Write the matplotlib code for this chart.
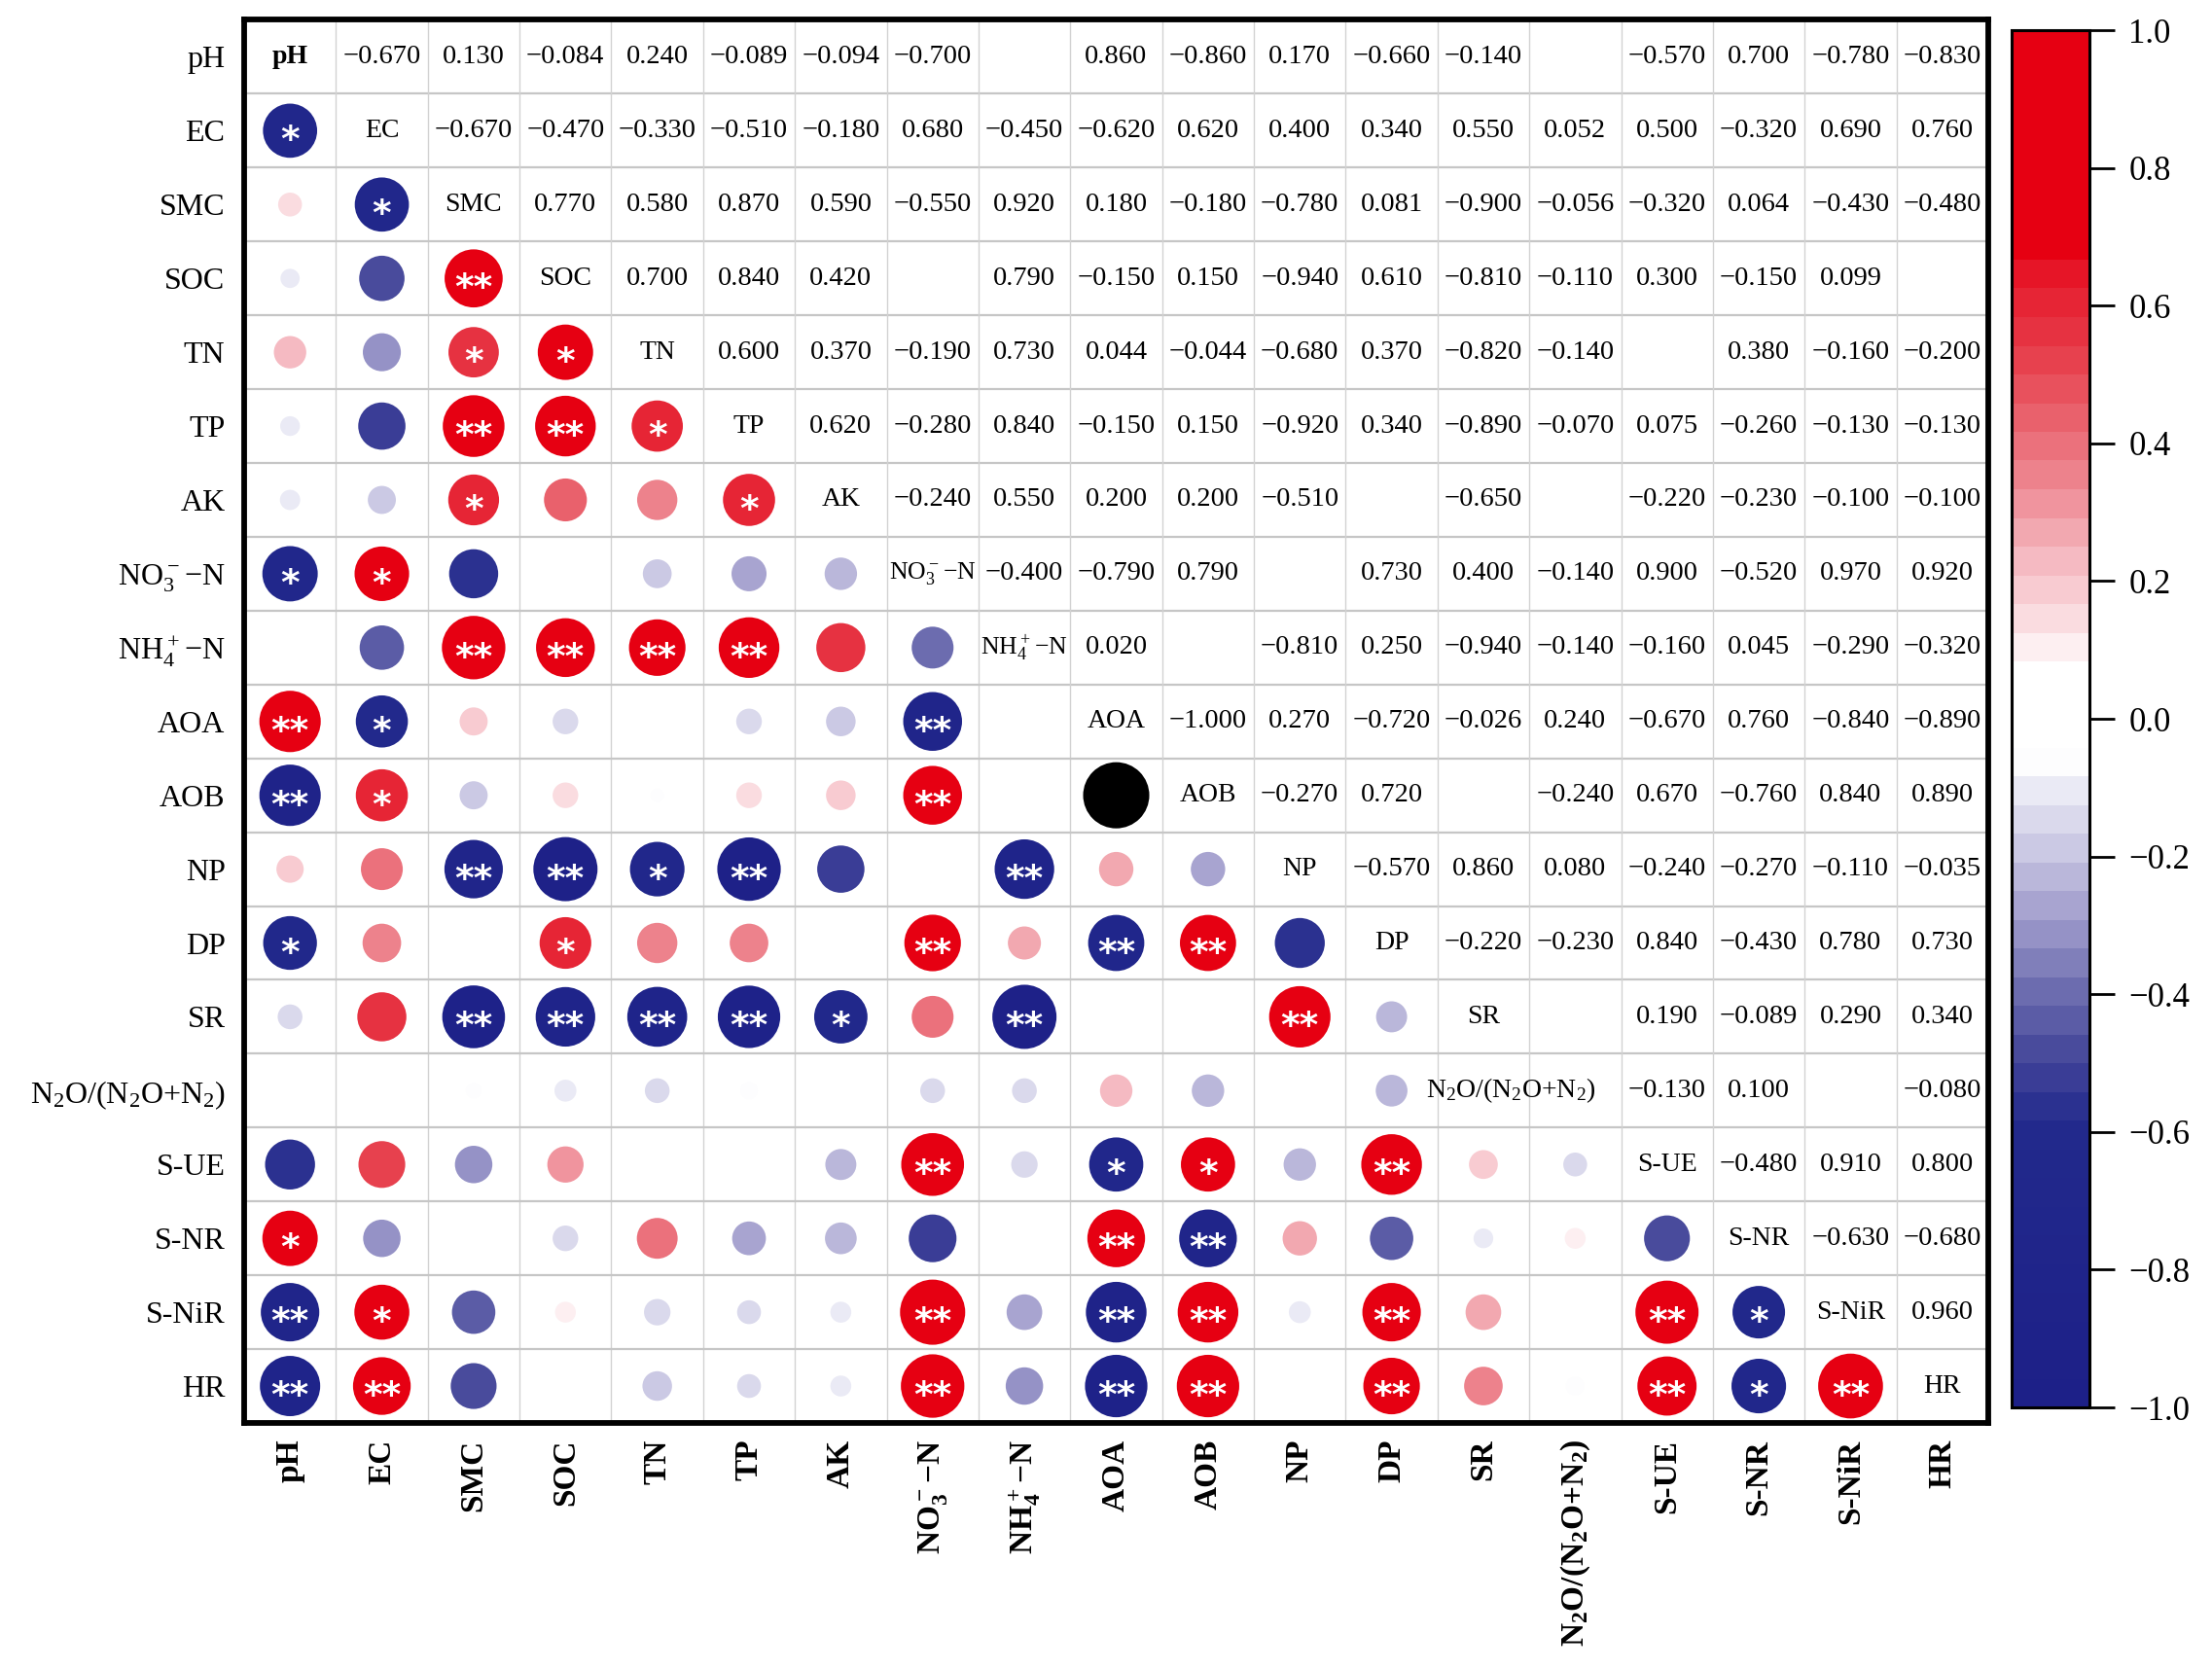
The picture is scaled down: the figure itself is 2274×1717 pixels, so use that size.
import numpy as np
import matplotlib
matplotlib.use('Agg')
import matplotlib.pyplot as plt
from matplotlib.colors import LinearSegmentedColormap, Normalize
from matplotlib.transforms import ScaledTranslation
import matplotlib.cm as cm

plt.rcParams['font.family'] = ['Liberation Serif', 'DejaVu Serif']
plt.rcParams['mathtext.fontset'] = 'custom'
plt.rcParams['mathtext.rm'] = 'Liberation Serif'
plt.rcParams['mathtext.default'] = 'regular'
plt.rcParams['axes.unicode_minus'] = True

# ---------------- data ----------------
keys = ['pH', 'EC', 'SMC', 'SOC', 'TN', 'TP', 'AK', 'NO3', 'NH4', 'AOA', 'AOB',
        'NP', 'DP', 'SR', 'N2O', 'SUE', 'SNR', 'SNiR', 'HR']
labels = ['pH', 'EC', 'SMC', 'SOC', 'TN', 'TP', 'AK', 'NO$_3^-$−N', 'NH$_4^+$−N',
          'AOA', 'AOB', 'NP', 'DP', 'SR', 'N$_2$O/(N$_2$O+N$_2$)',
          'S-UE', 'S-NR', 'S-NiR', 'HR']

N = np.nan
# upper-triangle correlation coefficients (values to the right of the diagonal)
r_pH   = [-0.670, 0.130, -0.084, 0.240, -0.089, -0.094, -0.700, N, 0.860, -0.860, 0.170, -0.660, -0.140, N, -0.570, 0.700, -0.780, -0.830]
r_EC   = [-0.670, -0.470, -0.330, -0.510, -0.180, 0.680, -0.450, -0.620, 0.620, 0.400, 0.340, 0.550, 0.052, 0.500, -0.320, 0.690, 0.760]
r_SMC  = [0.770, 0.580, 0.870, 0.590, -0.550, 0.920, 0.180, -0.180, -0.780, 0.081, -0.900, -0.056, -0.320, 0.064, -0.430, -0.480]
r_SOC  = [0.700, 0.840, 0.420, N, 0.790, -0.150, 0.150, -0.940, 0.610, -0.810, -0.110, 0.300, -0.150, 0.099, N]
r_TN   = [0.600, 0.370, -0.190, 0.730, 0.044, -0.044, -0.680, 0.370, -0.820, -0.140, N, 0.380, -0.160, -0.200]
r_TP   = [0.620, -0.280, 0.840, -0.150, 0.150, -0.920, 0.340, -0.890, -0.070, 0.075, -0.260, -0.130, -0.130]
r_AK   = [-0.240, 0.550, 0.200, 0.200, -0.510, N, -0.650, N, -0.220, -0.230, -0.100, -0.100]
r_NO3  = [-0.400, -0.790, 0.790, N, 0.730, 0.400, -0.140, 0.900, -0.520, 0.970, 0.920]
r_NH4  = [0.020, N, -0.810, 0.250, -0.940, -0.140, -0.160, 0.045, -0.290, -0.320]
r_AOA  = [-1.000, 0.270, -0.720, -0.026, 0.240, -0.670, 0.760, -0.840, -0.890]
r_AOB  = [-0.270, 0.720, N, -0.240, 0.670, -0.760, 0.840, 0.890]
r_NP   = [-0.570, 0.860, 0.080, -0.240, -0.270, -0.110, -0.035]
r_DP   = [-0.220, -0.230, 0.840, -0.430, 0.780, 0.730]
r_SR   = [N, 0.190, -0.089, 0.290, 0.340]
r_N2O  = [-0.130, 0.100, N, -0.080]
r_SUE  = [-0.480, 0.910, 0.800]
r_SNR  = [-0.630, -0.680]
r_SNiR = [0.960]
upper_rows = [r_pH, r_EC, r_SMC, r_SOC, r_TN, r_TP, r_AK, r_NO3, r_NH4, r_AOA,
              r_AOB, r_NP, r_DP, r_SR, r_N2O, r_SUE, r_SNR, r_SNiR]

# lower-triangle circles that differ from the printed upper value (row, column, value)
circle_overrides = [('AOA', 'AK', -0.200), ('SNR', 'NP', 0.270)]

# critical |r| for * and **
r_crit_05 = 0.576
r_crit_01 = 0.708

# ---------------- build matrices ----------------
n = len(keys)
R = np.full((n, n), np.nan)
for i, row in enumerate(upper_rows):
    for k, v in enumerate(row):
        j = i + 1 + k
        R[i, j] = v
        R[j, i] = v
C = R.copy()
for rk, ck, v in circle_overrides:
    C[keys.index(rk), keys.index(ck)] = v

# ---------------- colormap ----------------
nodes = [
    (-1.00, '#1D2088'), (-0.60, '#22298C'), (-0.50, '#45479A'), (-0.40, '#6E6EB0'),
    (-0.30, '#9E9ACB'), (-0.20, '#C8C6E2'), (-0.10, '#ECECF6'), (-0.06, '#FFFFFF'),
    (0.07, '#FFFFFF'), (0.15, '#FADCE0'), (0.25, '#F4B4BC'), (0.35, '#EE8690'),
    (0.45, '#E9606B'), (0.55, '#E63A48'), (0.65, '#E61A2C'), (0.70, '#E60012'),
    (1.00, '#E60012')]
cmap = LinearSegmentedColormap.from_list('corr', [((v + 1) / 2, c) for v, c in nodes], N=48)
norm = Normalize(-1, 1)

# ---------------- figure ----------------
W, H = 2274, 1717
fig = plt.figure(figsize=(W / 100, H / 100), dpi=100)
ax = fig.add_axes([251 / W, 1 - 1463 / H, 1793 / W, 1442.5 / H])
ax.set_xlim(0, n)
ax.set_ylim(n, 0)

for k in range(1, n):
    ax.axhline(k, color='#c6c6c6', lw=1.6, zorder=0)
    ax.axvline(k, color='#d2d2d2', lw=1.0, zorder=0)
for s in ax.spines.values():
    s.set_linewidth(4.2)
    s.set_color('black')

# lower triangle circles
xs, ys, ss, cs = [], [], [], []
for i in range(n):
    for j in range(i):
        v = C[i, j]
        if np.isnan(v):
            continue
        xs.append(j + 0.5)
        ys.append(i + 0.5)
        ss.append(2400 * abs(v))
        cs.append('black' if v <= -1 else cmap(norm(v)))
ax.scatter(xs, ys, s=ss, c=cs, linewidths=0, zorder=2)

# significance stars
star_size = 27
star_trans = ax.transData + ScaledTranslation(0, -0.56 * star_size / 72, fig.dpi_scale_trans)
for i in range(n):
    for j in range(i):
        v = C[i, j]
        if np.isnan(v) or abs(v) >= 1:
            continue
        a = abs(v)
        mark = '**' if a >= r_crit_01 else ('*' if a >= r_crit_05 else '')
        if mark:
            ax.text(j + 0.5, i + 0.5, mark, transform=star_trans, ha='center', va='baseline',
                    color='white', fontsize=star_size, fontweight='bold',
                    family=['DejaVu Sans'], zorder=3)

# upper triangle values
for i in range(n):
    for j in range(i + 1, n):
        v = R[i, j]
        if np.isnan(v):
            continue
        ax.text(j + 0.5, i + 0.5, f'{v:.3f}'.replace('-', '−'), ha='center', va='center',
                fontsize=20.5, zorder=3)

# diagonal labels
for i in range(n):
    x = i + 0.5
    fs = 20
    if keys[i] == 'N2O':
        x = i - 0.2
    if keys[i] in ('NO3', 'NH4'):
        fs = 18.5
    ax.text(x, i + 0.5, labels[i], ha='center', va='center', fontsize=fs,
            fontweight='bold' if i == 0 else 'normal', zorder=3)

# axis labels
ax.set_xticks(np.arange(n) + 0.5)
ax.set_xticklabels(labels, rotation=90, fontsize=24, fontweight='bold')
ax.set_yticks(np.arange(n) + 0.5)
ax.set_yticklabels(labels, fontsize=23)
ax.tick_params(axis='x', length=0, pad=12)
ax.tick_params(axis='y', length=0, pad=14)

# colorbar
cax = fig.add_axes([2068 / W, 1 - 1447 / H, 80 / W, 1416 / H])
sm = cm.ScalarMappable(norm=norm, cmap=cmap)
cb = fig.colorbar(sm, cax=cax, ticks=np.linspace(-1, 1, 11))
cb.outline.set_linewidth(2.2)
cax.tick_params(length=19, width=2, labelsize=25, pad=10, direction='out')
cb.ax.yaxis.set_major_formatter(matplotlib.ticker.FuncFormatter(lambda v, p: f'{v:.1f}'.replace('-', '−')))

fig.savefig('out.png', dpi=100)
